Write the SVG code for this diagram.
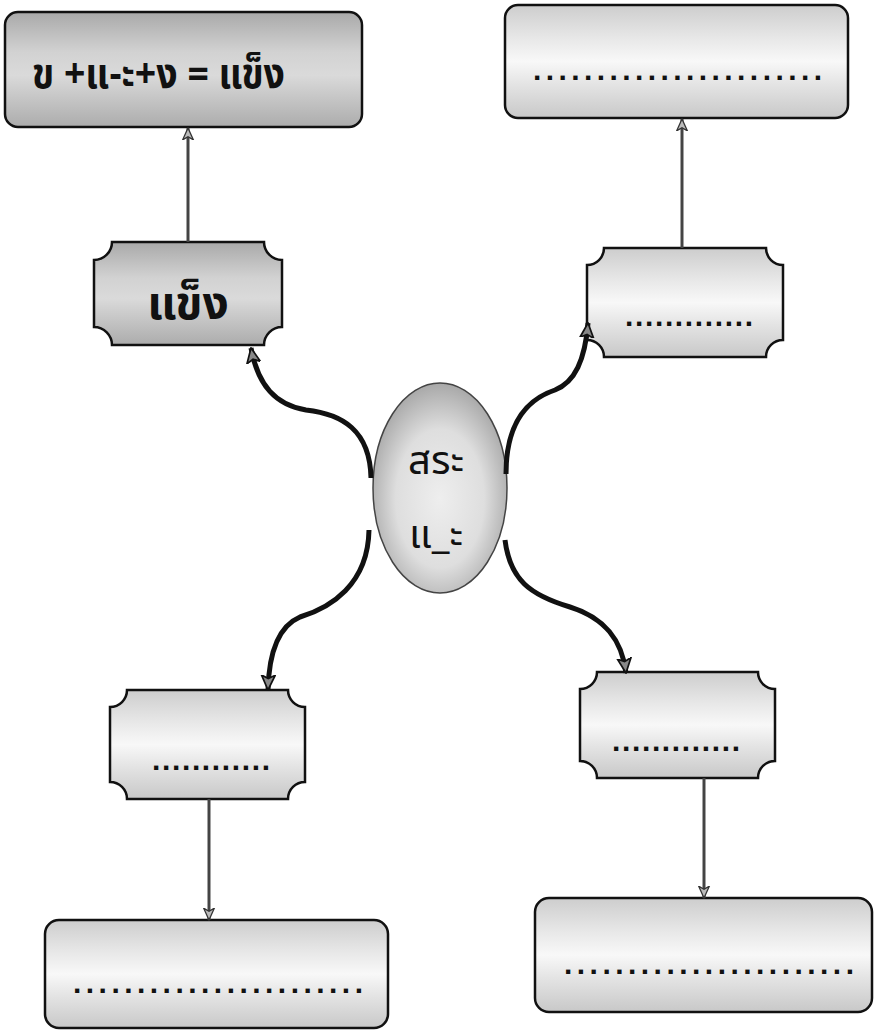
<svg xmlns="http://www.w3.org/2000/svg" width="874" height="1032" viewBox="0 0 874 1032">
<style>
.box{stroke:#111;stroke-width:2.5;}
.light{fill:url(#gLight);}
.dark{fill:url(#gDark);}
.th{font-family:"Noto Sans Thai","Noto Sans","DejaVu Sans",sans-serif;fill:#111;}
.dots{font-family:"Liberation Sans",Arial,sans-serif;font-weight:bold;font-size:30px;fill:#111;}
.curve{fill:none;stroke:#111;stroke-width:5;stroke-linecap:butt;}
.straight{fill:none;stroke:#444;stroke-width:3;}
</style>
<defs>
<linearGradient id="gLight" x1="0" y1="0" x2="0" y2="1">
<stop offset="0" stop-color="#cdcdcd"/>
<stop offset="0.3" stop-color="#e8e8e8"/>
<stop offset="0.5" stop-color="#f8f8f8"/>
<stop offset="0.7" stop-color="#e4e4e4"/>
<stop offset="1" stop-color="#c8c8c8"/>
</linearGradient>
<linearGradient id="gDark" x1="0" y1="0" x2="0" y2="1">
<stop offset="0" stop-color="#a9a9a9"/>
<stop offset="0.35" stop-color="#d2d2d2"/>
<stop offset="0.55" stop-color="#dadada"/>
<stop offset="1" stop-color="#acacac"/>
</linearGradient>
<radialGradient id="gEll" cx="0.5" cy="0.55" r="0.55">
<stop offset="0" stop-color="#eeeeee"/>
<stop offset="0.6" stop-color="#dedede"/>
<stop offset="1" stop-color="#a8a8a8"/>
</radialGradient>
<marker id="mCurve" viewBox="0 0 14 14" refX="13" refY="7" markerWidth="16" markerHeight="16" markerUnits="userSpaceOnUse" orient="auto">
<path d="M0,1 L13,7 L0,13 L3,7 Z" fill="#888" stroke="#111" stroke-width="1.5" stroke-linejoin="miter"/>
</marker>
<marker id="mLine" viewBox="0 0 12 12" refX="11" refY="6" markerWidth="13" markerHeight="13" markerUnits="userSpaceOnUse" orient="auto">
<path d="M0,1 L11,6 L0,11 L3,6 Z" fill="#bbb" stroke="#333" stroke-width="1.2"/>
</marker>
</defs>

<rect width="874" height="1032" fill="#fff"/>

<g id="center">
<ellipse cx="440" cy="488" rx="67" ry="105" fill="url(#gEll)" stroke="#444" stroke-width="1.5"/>
<text class="th" x="436" y="474" font-size="40" text-anchor="middle">สระ</text>
<text class="th" x="436" y="548" font-size="40" text-anchor="middle">แ_ะ</text>
</g>

<g id="box-tl">
<rect class="box dark" x="5" y="12" width="357" height="115" rx="13"/>
<text class="th" x="32" y="88" font-size="42" font-weight="bold" textLength="253" lengthAdjust="spacingAndGlyphs">ข +แ-ะ+ง = แข็ง</text>
</g>

<g id="plaque-tl">
<path class="box dark" d="M112,242 L264,242 A18,18 0 0 0 282,260 L282,327 A18,18 0 0 0 264,345 L112,345 A18,18 0 0 0 94,327 L94,260 A18,18 0 0 0 112,242 Z"/>
<text class="th" x="188" y="319" font-size="46" font-weight="bold" text-anchor="middle">แข็ง</text>
</g>

<g id="box-tr">
<rect class="box light" x="505" y="5" width="343" height="113" rx="13"/>
<text class="dots" x="533" y="80" textLength="289" lengthAdjust="spacing">.......................</text>
</g>

<g id="plaque-tr">
<path class="box light" d="M604,248 L766,248 A17,17 0 0 0 783,265 L783,340 A17,17 0 0 0 766,357 L604,357 A17,17 0 0 0 587,340 L587,265 A17,17 0 0 0 604,248 Z"/>
<text class="dots" x="625" y="326" textLength="128" lengthAdjust="spacing">.............</text>
</g>

<g id="plaque-bl">
<path class="box light" d="M127,690 L288,690 A17,17 0 0 0 305,707 L305,782 A17,17 0 0 0 288,799 L127,799 A17,17 0 0 0 110,782 L110,707 A17,17 0 0 0 127,690 Z"/>
<text class="dots" x="152" y="770" textLength="118" lengthAdjust="spacing">............</text>
</g>

<g id="box-bl">
<rect class="box light" x="45" y="920" width="343" height="108" rx="14"/>
<text class="dots" x="73" y="993" textLength="290" lengthAdjust="spacing">.......................</text>
</g>

<g id="plaque-br">
<path class="box light" d="M597,672 L758,672 A17,17 0 0 0 775,689 L775,761 A17,17 0 0 0 758,778 L597,778 A17,17 0 0 0 580,761 L580,689 A17,17 0 0 0 597,672 Z"/>
<text class="dots" x="612" y="751" textLength="128" lengthAdjust="spacing">.............</text>
</g>

<g id="box-br">
<rect class="box light" x="535" y="898" width="337" height="114" rx="14"/>
<text class="dots" x="564" y="974" textLength="290" lengthAdjust="spacing">.......................</text>
</g>

<g id="connectors">
<path class="straight" d="M188,242 L188,128" marker-end="url(#mLine)"/>
<path class="straight" d="M682,248 L682,119" marker-end="url(#mLine)"/>
<path class="straight" d="M209,799 L209,920" marker-end="url(#mLine)"/>
<path class="straight" d="M704,778 L704,898" marker-end="url(#mLine)"/>
<path class="curve" d="M371,478 C370,430 342,414 306,410 C276,405 258,386 251,348" marker-end="url(#mCurve)"/>
<path class="curve" d="M369,530 C368,585 330,608 300,617 C279,626 269,650 268,690" marker-end="url(#mCurve)"/>
<path class="curve" d="M506,474 C506,425 525,400 555,390 C575,382 585,360 588,323" marker-end="url(#mCurve)"/>
<path class="curve" d="M505,540 C510,580 530,595 570,607 C605,618 622,640 626,673" marker-end="url(#mCurve)"/>
</g>
</svg>
